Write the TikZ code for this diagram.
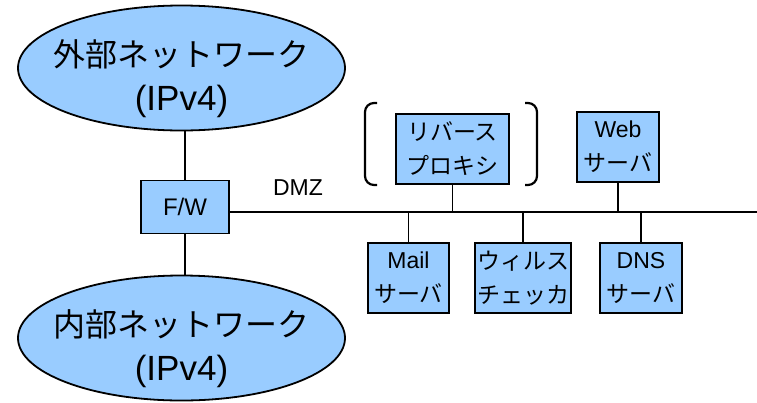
\documentclass[tikz,border=0pt]{standalone}
\usepackage{fontspec}
\setmainfont{Noto Sans CJK JP}
\newfontfamily\latn{Liberation Sans}
\usetikzlibrary{shapes.geometric}
\definecolor{boxblue}{RGB}{153,204,255}
\tikzset{
  net/.style={ellipse, draw=black, line width=1.8pt, fill=boxblue,
    minimum width=327pt, minimum height=125pt, inner sep=0pt},
  nettext/.style={align=center, inner sep=0pt,
    font=\fontsize{32}{44}\selectfont},
  srv/.style={rectangle, draw=black, line width=1.8pt, fill=boxblue,
    inner sep=0pt, align=center, minimum height=70pt,
    font=\fontsize{23}{34}\selectfont},
  wire/.style={draw=black, line width=1.5pt},
  brk/.style={draw=black, line width=2.2pt, rounded corners=9pt}
}
\begin{document}
\begin{tikzpicture}[x=1pt,y=-1pt]
\useasboundingbox (0,0) rectangle (757,402);

% networks
\node[net] (ext) at (181.5,68) {};
\node[nettext] (extlabel) at (181.5,79) {外部ネットワーク\\{\latn\fontsize{35}{44}\selectfont (IPv4)}};
\node[net] (int) at (181.5,338) {};
\node[nettext] (intlabel) at (181.5,349) {内部ネットワーク\\{\latn\fontsize{35}{44}\selectfont (IPv4)}};

% firewall
\node[srv, minimum width=88pt, minimum height=53pt, font=\fontsize{24}{26}\latn] (fw) at (185,207) {F/W};

% DMZ bus
\coordinate (dmzend) at (757,212);
\node[font=\fontsize{23}{24}\latn, anchor=center] (dmz) at (298,188) {DMZ};

% servers
\node[srv, minimum width=113pt] (proxy) at (452.5,149) {リバース\\プロキシ};
\node[srv, minimum width=82pt] (web) at (618,147) {{\latn Web}\\サーバ};
\node[srv, minimum width=81pt] (mail) at (408.5,278) {{\latn Mail}\\サーバ};
\node[srv, minimum width=96pt] (virus) at (523,278) {ウィルス\\チェッカ};
\node[srv, minimum width=82pt] (dns) at (641,278) {{\latn DNS}\\サーバ};

% connections
\draw[wire] (ext.south -| fw) -- (fw);
\draw[wire] (fw) -- (int.north -| fw);
\draw[wire] (fw.east |- dmzend) -- (dmzend);
\draw[wire] (proxy.south) -- (proxy.south |- dmzend);
\draw[wire] (web.south) -- (web.south |- dmzend);
\draw[wire] (mail.north) -- (mail.north |- dmzend);
\draw[wire] (virus.north) -- (virus.north |- dmzend);
\draw[wire] (dns.north) -- (dns.north |- dmzend);

% brackets around the reverse proxy
\coordinate (lb) at (377,103);
\coordinate (rb) at (525,103);
\draw[brk] (lb) -- ++(-12,0) -- ++(0,82) -- ++(12,0);
\draw[brk] (rb) -- ++(12,0) -- ++(0,82) -- ++(-12,0);
\end{tikzpicture}
\end{document}
